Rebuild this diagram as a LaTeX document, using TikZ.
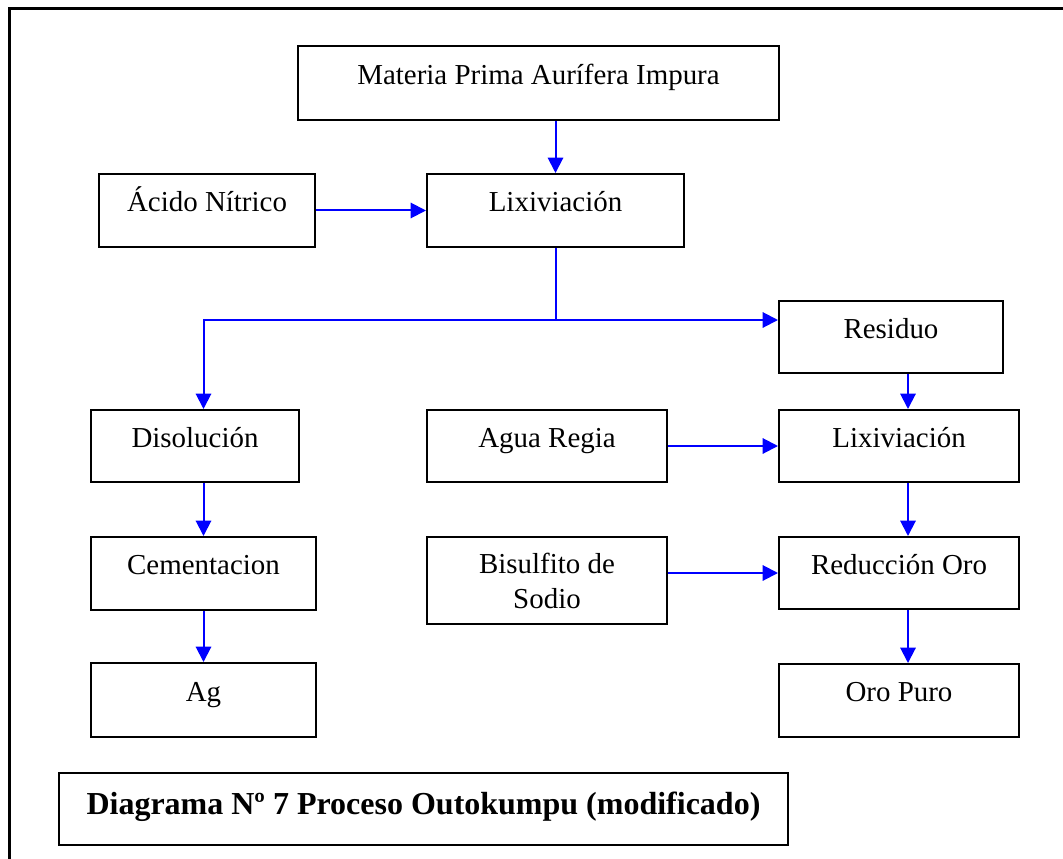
\documentclass[tikz,border=0pt]{standalone}
\usepackage{fontspec}
\setmainfont{Liberation Serif}
\usetikzlibrary{arrows.meta,calc}
\begin{document}
\begin{tikzpicture}[x=0.75pt,y=-0.75pt,
  box/.style={draw=black, line width=1.5pt, inner sep=0pt,
    font=\fontsize{21.7}{26.25}\selectfont, text height=8.1pt, text depth=5.9pt},
  sz/.style 2 args={minimum width=#1*0.75pt, minimum height=#2*0.75pt},
  flow/.style={draw=blue, line width=1.5pt, -{Triangle[length=11.5pt,width=11.5pt]}},
  feed/.style={draw=blue, line width=1.5pt},
  frame/.style={line width=2.8pt, line join=miter}]
\useasboundingbox (0,0) rectangle (1063,859);

% outer frame (top and left edges only)
\draw[frame] (9.5,859) -- (9.5,8.5) -- (1063,8.5);

% process boxes
\node[box, sz={481}{74}] (materia) at (538.5,83)   {Materia Prima Aurífera Impura};
\node[box, sz={216}{73}] (acido)   at (207,210.5)  {Ácido Nítrico};
\node[box, sz={257}{73}] (lix1)    at (555.5,210.5){Lixiviación};
\node[box, sz={224}{72}] (residuo) at (891,337)    {Residuo};
\node[box, sz={208}{72}] (disol)   at (195,446)    {Disolución};
\node[box, sz={240}{72}] (agua)    at (547,446)    {Agua Regia};
\node[box, sz={240}{72}] (lix2)    at (899,446)    {Lixiviación};
\node[box, sz={225}{73}] (cement)  at (203.5,573.5){Cementacion};
\node[box, sz={240}{87}, text depth=19.3pt] (bisul) at (547,580.5)
  {\begin{tabular}[t]{@{}c@{}}Bisulfito de\\Sodio\end{tabular}};
\node[box, sz={240}{72}] (reduc)   at (899,573)    {Reducción Oro};
\node[box, sz={225}{74}] (ag)      at (203.5,700)  {Ag};
\node[box, sz={240}{73}] (oro)     at (899,700.5)  {Oro Puro};

% caption box
\node[box, sz={729}{72}, font=\bfseries\fontsize{24}{28}\selectfont,
  text height=12pt, text depth=4.5pt] (title) at (423.5,809)
  {Diagrama Nº 7 Proceso Outokumpu (modificado)};

% connectors
\draw[flow] (lix1.north |- materia.south) -- (lix1.north);
\draw[flow] (acido) -- (lix1);
\coordinate (split) at ($(lix1.south)+(0,72)$);
\draw[feed] (lix1.south) -- (split);
\draw[flow] (split) -| (cement.north |- disol.north);
\draw[flow] (split) -- (split -| residuo.west);
\draw[flow] ($(residuo.south -| lix2.north)+(9,0)$) -- ($(lix2.north)+(9,0)$);
\draw[flow] (agua) -- (lix2);
\draw[flow] ($(lix2.south)+(9,0)$) -- ($(reduc.north)+(9,0)$);
\draw[flow] (bisul.east |- reduc) -- (reduc.west);
\draw[flow] ($(reduc.south)+(9,0)$) -- ($(oro.north)+(9,0)$);
\draw[flow] (cement.north |- disol.south) -- (cement.north);
\draw[flow] (cement) -- (ag);
\end{tikzpicture}
\end{document}
